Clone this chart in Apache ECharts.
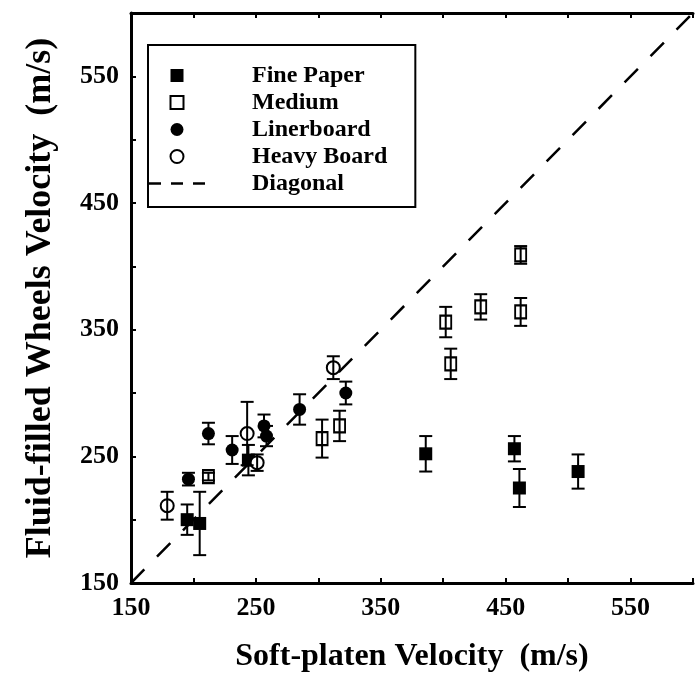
<!DOCTYPE html>
<html>
<head>
<meta charset="utf-8">
<script src="https://cdn.jsdelivr.net/npm/echarts@6/dist/echarts.min.js"></script>
<style>
html,body{margin:0;padding:0;background:#fff;}
#chart{width:696px;height:678px;}
</style>
</head>
<body>
<div id="chart"></div>
<script>
// ---- data ----
const finePaperX   = [195, 205, 244, 386, 457, 461, 508];
const finePaperY   = [200, 197, 247, 252, 256, 225, 238];
const finePaperErr = [12, 25, 12, 14, 10, 15, 13.5];

const mediumX   = [212, 303, 317, 402, 406, 430, 462, 462];
const mediumY   = [234, 264, 274, 356, 323, 368, 409, 364];
const mediumErr = [3, 15, 12, 12, 12, 10, 7, 11];

const linerX   = [196, 212, 231, 256.5, 258.5, 285, 322];
const linerY   = [232, 268, 255, 274, 266, 287, 300];
const linerErr = [5, 8.5, 11, 9, 8, 12, 9];

const heavyX   = [179, 243, 251, 312];
const heavyY   = [211, 268, 245, 320];
const heavyErr = [11, 25, 6.5, 9];

const diagonalX = [150, 600];
const diagonalY = [150, 600];

const xTickLabels = [150, 250, 350, 450, 550];
const yTickLabels = [150, 250, 350, 450, 550];

// ---- build ----
const FONT = '"Liberation Serif", "Times New Roman", serif';
function pts(xs, ys) { return xs.map((x, i) => [x, ys[i]]); }
function errPts(xs, ys, es) { return xs.map((x, i) => [x, ys[i], es[i]]); }

function errorSeries(name, xs, ys, es) {
  return {
    name: name,
    type: 'custom',
    z: 5,
    silent: true,
    encode: { x: 0, y: 1 },
    data: errPts(xs, ys, es),
    renderItem: function (params, api) {
      const x = api.value(0), y = api.value(1), e = api.value(2);
      const t = api.coord([x, y + e]);
      const b = api.coord([x, y - e]);
      const h = 6.5;
      const st = { stroke: '#000', lineWidth: 2 };
      return {
        type: 'group',
        children: [
          { type: 'line', shape: { x1: t[0], y1: t[1], x2: b[0], y2: b[1] }, style: st },
          { type: 'line', shape: { x1: t[0] - h, y1: t[1], x2: t[0] + h, y2: t[1] }, style: st },
          { type: 'line', shape: { x1: b[0] - h, y1: b[1], x2: b[0] + h, y2: b[1] }, style: st }
        ]
      };
    }
  };
}

const SQUARE_ICON = 'path://M0,0L10,0L10,10L0,10Z';
const DASH_ICON = 'path://M0,0L12,0L12,2.5L0,2.5Z M22,0L34,0L34,2.5L22,2.5Z M44,0L56,0L56,2.5L44,2.5Z';

const chart = echarts.init(document.getElementById('chart'), null, { renderer: 'canvas' });

const labelStyle = { fontFamily: FONT, fontWeight: 'bold', fontSize: 26, color: '#000' };

chart.setOption({
  animation: false,
  backgroundColor: '#fff',
  grid: { left: 131, right: -10, top: 13, bottom: 94, containLabel: false },
  legend: {
    orient: 'vertical',
    left: 148,
    top: 45,
    padding: [17, 28, 10, 1],
    itemWidth: 56,
    itemHeight: 13,
    itemGap: 0,
    symbolKeepAspect: true,
    borderColor: '#000',
    borderWidth: 2,
    backgroundColor: '#fff',
    textStyle: { fontFamily: FONT, fontWeight: 'bold', fontSize: 24, color: '#000', lineHeight: 27, padding: [0, 0, 0, 42] },
    data: [
      { name: 'Fine Paper', icon: SQUARE_ICON },
      { name: 'Medium', icon: SQUARE_ICON },
      { name: 'Linerboard', icon: 'circle' },
      { name: 'Heavy Board', icon: 'circle' },
      { name: 'Diagonal', icon: DASH_ICON, itemStyle: { color: '#000', borderWidth: 0 } }
    ]
  },
  xAxis: [{
    type: 'value', min: 150, max: 600, interval: 50,
    axisLine: { onZero: false, lineStyle: { color: '#000', width: 3 } },
    axisTick: { inside: true, length: 5, lineStyle: { color: '#000', width: 2 } },
    splitLine: { show: false },
    axisLabel: Object.assign({ margin: 12, formatter: v => xTickLabels.includes(v) ? String(v) : '' }, labelStyle),
    name: 'Soft-platen Velocity  (m/s)',
    nameLocation: 'middle',
    nameGap: 58,
    nameTextStyle: { fontFamily: FONT, fontWeight: 'bold', fontSize: 32, color: '#000' }
  }, {
    type: 'value', min: 150, max: 600, interval: 50, position: 'top',
    axisLine: { onZero: false, lineStyle: { color: '#000', width: 3 } },
    axisTick: { inside: true, length: 5, lineStyle: { color: '#000', width: 2 } },
    splitLine: { show: false },
    axisLabel: { show: false }
  }],
  yAxis: [{
    type: 'value', min: 150, max: 600, interval: 50,
    axisLine: { onZero: false, lineStyle: { color: '#000', width: 3 } },
    axisTick: { inside: true, length: 5, lineStyle: { color: '#000', width: 2 } },
    splitLine: { show: false },
    axisLabel: Object.assign({ margin: 12, formatter: v => yTickLabels.includes(v) ? String(v) : '' }, labelStyle),
    name: 'Fluid-filled Wheels Velocity  (m/s)',
    nameLocation: 'middle',
    nameGap: 72,
    nameTextStyle: { fontFamily: FONT, fontWeight: 'bold', fontSize: 36, color: '#000' }
  }],
  series: [
    {
      name: 'Fine Paper', type: 'scatter', symbol: 'rect', symbolSize: 13, z: 3,
      itemStyle: { color: '#000', opacity: 1 }, data: pts(finePaperX, finePaperY)
    },
    {
      name: 'Medium', type: 'scatter', symbol: 'rect', symbolSize: [11, 13], z: 3,
      itemStyle: { color: '#fff', borderColor: '#000', borderWidth: 2, opacity: 1 }, data: pts(mediumX, mediumY)
    },
    {
      name: 'Linerboard', type: 'scatter', symbol: 'circle', symbolSize: 13, z: 3,
      itemStyle: { color: '#000', opacity: 1 }, data: pts(linerX, linerY)
    },
    {
      name: 'Heavy Board', type: 'scatter', symbol: 'circle', symbolSize: 13, z: 3,
      itemStyle: { color: '#fff', borderColor: '#000', borderWidth: 2, opacity: 1 }, data: pts(heavyX, heavyY)
    },
    {
      name: 'Diagonal', type: 'line', showSymbol: false, symbol: 'none', z: 2,
      lineStyle: { color: '#000', width: 2.5, type: [19, 18] },
      itemStyle: { color: '#000' },
      data: pts(diagonalX, diagonalY)
    },
    errorSeries('Fine Paper err', finePaperX, finePaperY, finePaperErr),
    errorSeries('Medium err', mediumX, mediumY, mediumErr),
    errorSeries('Linerboard err', linerX, linerY, linerErr),
    errorSeries('Heavy Board err', heavyX, heavyY, heavyErr)
  ]
});
</script>
</body>
</html>
